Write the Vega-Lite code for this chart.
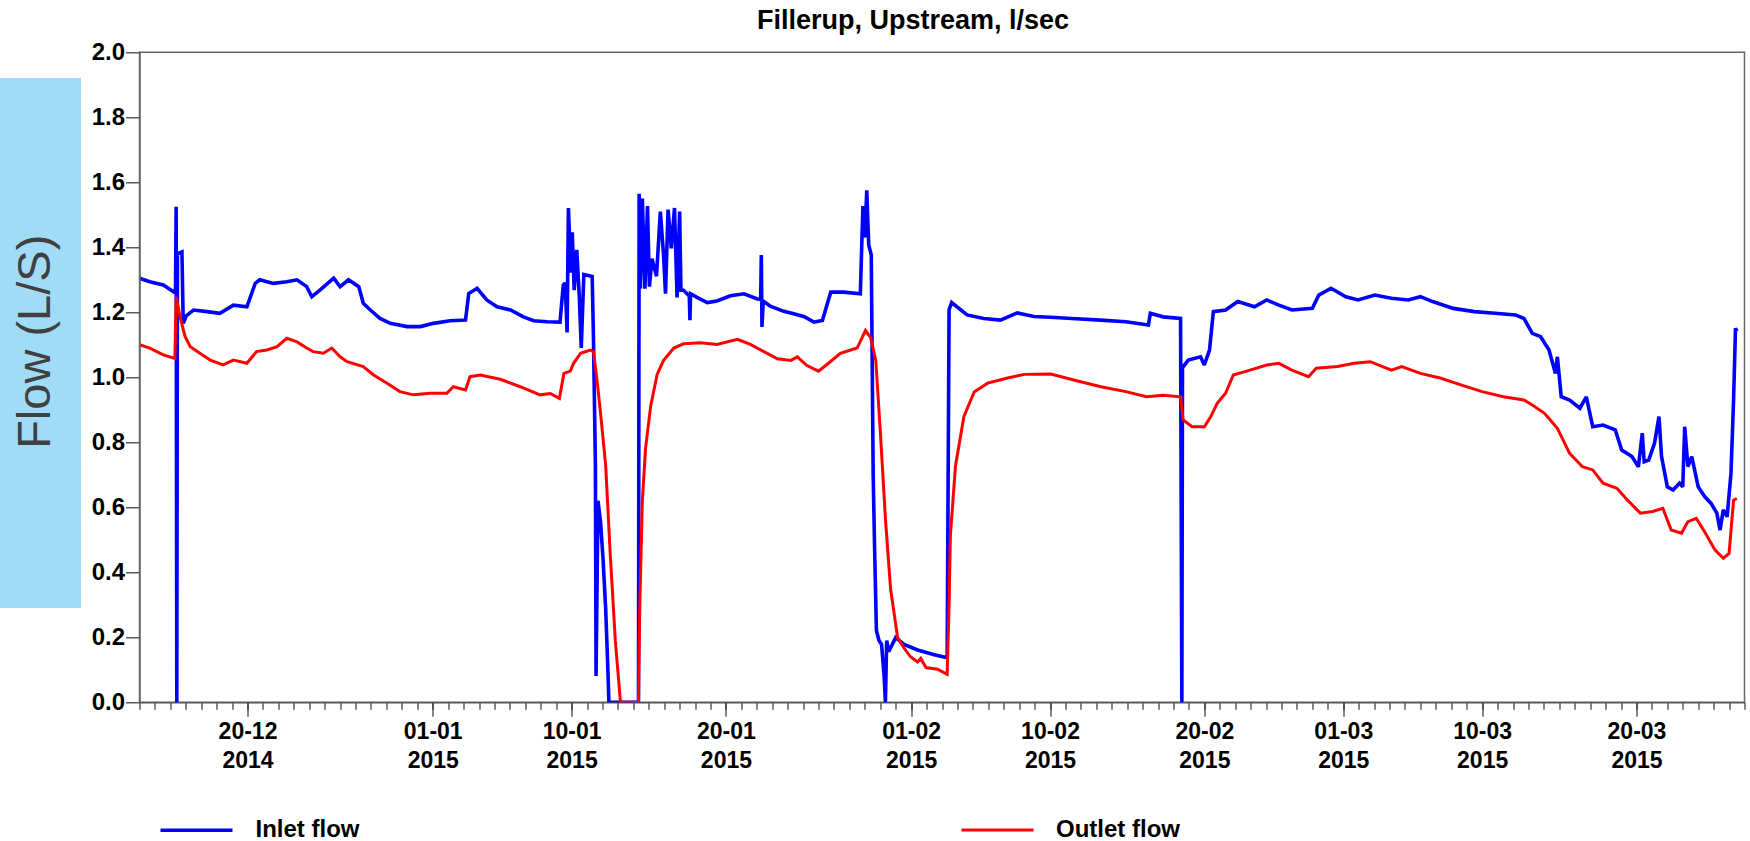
{
  "$schema": "https://vega.github.io/schema/vega-lite/v6.json",
  "width": 1605,
  "height": 650,
  "autosize": {"type": "none"},
  "padding": {"left": 139.5, "top": 52.3, "right": 5.5, "bottom": 138.7},
  "background": "white",
  "title": {"text": "Fillerup, Upstream, l/sec", "font": "Liberation Sans", "fontSize": 27, "fontWeight": "bold", "color": "#000000", "anchor": "middle", "dx": -29, "offset": -16, "baseline": "alphabetic"},
  "config": {"view": {"stroke": "#666666", "strokeWidth": 1.5}},
  "datasets": {
    "flow": [
      {"t": "2014-12-13T00:00", "s": "Inlet flow", "v": 1.305},
      {"t": "2014-12-13T16:00", "s": "Inlet flow", "v": 1.294},
      {"t": "2014-12-14T13:00", "s": "Inlet flow", "v": 1.284},
      {"t": "2014-12-15T05:00", "s": "Inlet flow", "v": 1.263},
      {"t": "2014-12-15T08:00", "s": "Inlet flow", "v": 1.27},
      {"t": "2014-12-15T09:00", "s": "Inlet flow", "v": 1.525},
      {"t": "2014-12-15T10:00", "s": "Inlet flow", "v": 0},
      {"t": "2014-12-15T11:00", "s": "Inlet flow", "v": 1.38},
      {"t": "2014-12-15T18:00", "s": "Inlet flow", "v": 1.386},
      {"t": "2014-12-15T20:00", "s": "Inlet flow", "v": 1.166},
      {"t": "2014-12-16T01:00", "s": "Inlet flow", "v": 1.19},
      {"t": "2014-12-16T12:00", "s": "Inlet flow", "v": 1.207},
      {"t": "2014-12-17T09:00", "s": "Inlet flow", "v": 1.202},
      {"t": "2014-12-18T05:00", "s": "Inlet flow", "v": 1.197},
      {"t": "2014-12-19T02:00", "s": "Inlet flow", "v": 1.222},
      {"t": "2014-12-19T23:00", "s": "Inlet flow", "v": 1.217},
      {"t": "2014-12-20T12:00", "s": "Inlet flow", "v": 1.289},
      {"t": "2014-12-20T19:00", "s": "Inlet flow", "v": 1.3},
      {"t": "2014-12-21T16:00", "s": "Inlet flow", "v": 1.289},
      {"t": "2014-12-22T13:00", "s": "Inlet flow", "v": 1.294},
      {"t": "2014-12-23T05:00", "s": "Inlet flow", "v": 1.3},
      {"t": "2014-12-23T20:00", "s": "Inlet flow", "v": 1.279},
      {"t": "2014-12-24T04:00", "s": "Inlet flow", "v": 1.248},
      {"t": "2014-12-24T17:00", "s": "Inlet flow", "v": 1.269},
      {"t": "2014-12-25T14:00", "s": "Inlet flow", "v": 1.305},
      {"t": "2014-12-26T00:00", "s": "Inlet flow", "v": 1.279},
      {"t": "2014-12-26T13:00", "s": "Inlet flow", "v": 1.3},
      {"t": "2014-12-27T05:00", "s": "Inlet flow", "v": 1.279},
      {"t": "2014-12-27T12:00", "s": "Inlet flow", "v": 1.228},
      {"t": "2014-12-27T23:00", "s": "Inlet flow", "v": 1.207},
      {"t": "2014-12-28T14:00", "s": "Inlet flow", "v": 1.181},
      {"t": "2014-12-29T06:00", "s": "Inlet flow", "v": 1.166},
      {"t": "2014-12-30T08:00", "s": "Inlet flow", "v": 1.156},
      {"t": "2014-12-31T05:00", "s": "Inlet flow", "v": 1.156},
      {"t": "2015-01-01T01:00", "s": "Inlet flow", "v": 1.166},
      {"t": "2015-01-02T03:00", "s": "Inlet flow", "v": 1.174},
      {"t": "2015-01-03T03:00", "s": "Inlet flow", "v": 1.176},
      {"t": "2015-01-03T08:00", "s": "Inlet flow", "v": 1.258},
      {"t": "2015-01-03T21:00", "s": "Inlet flow", "v": 1.274},
      {"t": "2015-01-04T12:00", "s": "Inlet flow", "v": 1.238},
      {"t": "2015-01-05T04:00", "s": "Inlet flow", "v": 1.217},
      {"t": "2015-01-06T01:00", "s": "Inlet flow", "v": 1.207},
      {"t": "2015-01-06T21:00", "s": "Inlet flow", "v": 1.186},
      {"t": "2015-01-07T13:00", "s": "Inlet flow", "v": 1.174},
      {"t": "2015-01-08T10:00", "s": "Inlet flow", "v": 1.171},
      {"t": "2015-01-09T06:00", "s": "Inlet flow", "v": 1.17},
      {"t": "2015-01-09T11:00", "s": "Inlet flow", "v": 1.284},
      {"t": "2015-01-09T14:00", "s": "Inlet flow", "v": 1.29},
      {"t": "2015-01-09T17:00", "s": "Inlet flow", "v": 1.138},
      {"t": "2015-01-09T19:00", "s": "Inlet flow", "v": 1.521},
      {"t": "2015-01-09T23:00", "s": "Inlet flow", "v": 1.322},
      {"t": "2015-01-10T01:00", "s": "Inlet flow", "v": 1.446},
      {"t": "2015-01-10T04:00", "s": "Inlet flow", "v": 1.268},
      {"t": "2015-01-10T08:00", "s": "Inlet flow", "v": 1.392},
      {"t": "2015-01-10T12:00", "s": "Inlet flow", "v": 1.246},
      {"t": "2015-01-10T15:00", "s": "Inlet flow", "v": 1.09},
      {"t": "2015-01-10T19:00", "s": "Inlet flow", "v": 1.316},
      {"t": "2015-01-11T08:00", "s": "Inlet flow", "v": 1.31},
      {"t": "2015-01-11T10:00", "s": "Inlet flow", "v": 1.117},
      {"t": "2015-01-11T13:00", "s": "Inlet flow", "v": 0.728},
      {"t": "2015-01-11T14:00", "s": "Inlet flow", "v": 0.081},
      {"t": "2015-01-11T17:00", "s": "Inlet flow", "v": 0.62},
      {"t": "2015-01-11T21:00", "s": "Inlet flow", "v": 0.555},
      {"t": "2015-01-12T01:00", "s": "Inlet flow", "v": 0.437},
      {"t": "2015-01-12T05:00", "s": "Inlet flow", "v": 0.286},
      {"t": "2015-01-12T08:00", "s": "Inlet flow", "v": 0.124},
      {"t": "2015-01-12T10:00", "s": "Inlet flow", "v": 0},
      {"t": "2015-01-14T08:00", "s": "Inlet flow", "v": 0},
      {"t": "2015-01-14T09:00", "s": "Inlet flow", "v": 1.565},
      {"t": "2015-01-14T11:00", "s": "Inlet flow", "v": 1.273},
      {"t": "2015-01-14T14:00", "s": "Inlet flow", "v": 1.55},
      {"t": "2015-01-14T18:00", "s": "Inlet flow", "v": 1.273},
      {"t": "2015-01-14T22:00", "s": "Inlet flow", "v": 1.527},
      {"t": "2015-01-15T01:00", "s": "Inlet flow", "v": 1.279},
      {"t": "2015-01-15T05:00", "s": "Inlet flow", "v": 1.365},
      {"t": "2015-01-15T12:00", "s": "Inlet flow", "v": 1.311},
      {"t": "2015-01-15T18:00", "s": "Inlet flow", "v": 1.51},
      {"t": "2015-01-15T23:00", "s": "Inlet flow", "v": 1.376},
      {"t": "2015-01-16T02:00", "s": "Inlet flow", "v": 1.257},
      {"t": "2015-01-16T06:00", "s": "Inlet flow", "v": 1.516},
      {"t": "2015-01-16T11:00", "s": "Inlet flow", "v": 1.397},
      {"t": "2015-01-16T16:00", "s": "Inlet flow", "v": 1.521},
      {"t": "2015-01-16T20:00", "s": "Inlet flow", "v": 1.246},
      {"t": "2015-01-17T00:00", "s": "Inlet flow", "v": 1.51},
      {"t": "2015-01-17T02:00", "s": "Inlet flow", "v": 1.268},
      {"t": "2015-01-17T06:00", "s": "Inlet flow", "v": 1.268},
      {"t": "2015-01-17T15:00", "s": "Inlet flow", "v": 1.25},
      {"t": "2015-01-17T16:00", "s": "Inlet flow", "v": 1.176},
      {"t": "2015-01-17T17:00", "s": "Inlet flow", "v": 1.257},
      {"t": "2015-01-18T03:00", "s": "Inlet flow", "v": 1.246},
      {"t": "2015-01-18T19:00", "s": "Inlet flow", "v": 1.23},
      {"t": "2015-01-19T10:00", "s": "Inlet flow", "v": 1.235},
      {"t": "2015-01-20T07:00", "s": "Inlet flow", "v": 1.251},
      {"t": "2015-01-21T04:00", "s": "Inlet flow", "v": 1.257},
      {"t": "2015-01-22T01:00", "s": "Inlet flow", "v": 1.241},
      {"t": "2015-01-22T06:00", "s": "Inlet flow", "v": 1.24},
      {"t": "2015-01-22T07:00", "s": "Inlet flow", "v": 1.376},
      {"t": "2015-01-22T08:00", "s": "Inlet flow", "v": 1.155},
      {"t": "2015-01-22T10:00", "s": "Inlet flow", "v": 1.235},
      {"t": "2015-01-22T21:00", "s": "Inlet flow", "v": 1.219},
      {"t": "2015-01-23T18:00", "s": "Inlet flow", "v": 1.203},
      {"t": "2015-01-24T05:00", "s": "Inlet flow", "v": 1.198},
      {"t": "2015-01-25T01:00", "s": "Inlet flow", "v": 1.187},
      {"t": "2015-01-25T17:00", "s": "Inlet flow", "v": 1.17},
      {"t": "2015-01-26T06:00", "s": "Inlet flow", "v": 1.175},
      {"t": "2015-01-26T19:00", "s": "Inlet flow", "v": 1.262},
      {"t": "2015-01-27T15:00", "s": "Inlet flow", "v": 1.262},
      {"t": "2015-01-28T17:00", "s": "Inlet flow", "v": 1.257},
      {"t": "2015-01-28T21:00", "s": "Inlet flow", "v": 1.527},
      {"t": "2015-01-29T00:00", "s": "Inlet flow", "v": 1.43},
      {"t": "2015-01-29T03:00", "s": "Inlet flow", "v": 1.575},
      {"t": "2015-01-29T06:00", "s": "Inlet flow", "v": 1.408},
      {"t": "2015-01-29T10:00", "s": "Inlet flow", "v": 1.376},
      {"t": "2015-01-29T13:00", "s": "Inlet flow", "v": 0.696},
      {"t": "2015-01-29T15:00", "s": "Inlet flow", "v": 0.491},
      {"t": "2015-01-29T18:00", "s": "Inlet flow", "v": 0.221},
      {"t": "2015-01-29T22:00", "s": "Inlet flow", "v": 0.19},
      {"t": "2015-01-30T02:00", "s": "Inlet flow", "v": 0.178},
      {"t": "2015-01-30T06:00", "s": "Inlet flow", "v": 0.081},
      {"t": "2015-01-30T08:00", "s": "Inlet flow", "v": 0},
      {"t": "2015-01-30T10:00", "s": "Inlet flow", "v": 0.19},
      {"t": "2015-01-30T13:00", "s": "Inlet flow", "v": 0.156},
      {"t": "2015-01-31T00:00", "s": "Inlet flow", "v": 0.199},
      {"t": "2015-01-31T13:00", "s": "Inlet flow", "v": 0.178},
      {"t": "2015-02-01T10:00", "s": "Inlet flow", "v": 0.161},
      {"t": "2015-02-02T12:00", "s": "Inlet flow", "v": 0.146},
      {"t": "2015-02-03T08:00", "s": "Inlet flow", "v": 0.137},
      {"t": "2015-02-03T11:00", "s": "Inlet flow", "v": 1.208},
      {"t": "2015-02-03T15:00", "s": "Inlet flow", "v": 1.23},
      {"t": "2015-02-04T15:00", "s": "Inlet flow", "v": 1.192},
      {"t": "2015-02-05T17:00", "s": "Inlet flow", "v": 1.181},
      {"t": "2015-02-06T19:00", "s": "Inlet flow", "v": 1.176},
      {"t": "2015-02-07T21:00", "s": "Inlet flow", "v": 1.198},
      {"t": "2015-02-08T23:00", "s": "Inlet flow", "v": 1.187},
      {"t": "2015-02-10T01:00", "s": "Inlet flow", "v": 1.185},
      {"t": "2015-02-11T16:00", "s": "Inlet flow", "v": 1.18},
      {"t": "2015-02-13T07:00", "s": "Inlet flow", "v": 1.176},
      {"t": "2015-02-14T22:00", "s": "Inlet flow", "v": 1.171},
      {"t": "2015-02-16T09:00", "s": "Inlet flow", "v": 1.161},
      {"t": "2015-02-16T12:00", "s": "Inlet flow", "v": 1.197},
      {"t": "2015-02-17T08:00", "s": "Inlet flow", "v": 1.186},
      {"t": "2015-02-18T11:00", "s": "Inlet flow", "v": 1.181},
      {"t": "2015-02-18T13:00", "s": "Inlet flow", "v": 0},
      {"t": "2015-02-18T14:00", "s": "Inlet flow", "v": 1.03},
      {"t": "2015-02-18T23:00", "s": "Inlet flow", "v": 1.053},
      {"t": "2015-02-19T18:00", "s": "Inlet flow", "v": 1.063},
      {"t": "2015-02-20T00:00", "s": "Inlet flow", "v": 1.038},
      {"t": "2015-02-20T08:00", "s": "Inlet flow", "v": 1.084},
      {"t": "2015-02-20T14:00", "s": "Inlet flow", "v": 1.202},
      {"t": "2015-02-21T09:00", "s": "Inlet flow", "v": 1.207},
      {"t": "2015-02-22T04:00", "s": "Inlet flow", "v": 1.233},
      {"t": "2015-02-23T06:00", "s": "Inlet flow", "v": 1.217},
      {"t": "2015-02-24T01:00", "s": "Inlet flow", "v": 1.238},
      {"t": "2015-02-24T20:00", "s": "Inlet flow", "v": 1.222},
      {"t": "2015-02-25T16:00", "s": "Inlet flow", "v": 1.207},
      {"t": "2015-02-27T00:00", "s": "Inlet flow", "v": 1.212},
      {"t": "2015-02-27T10:00", "s": "Inlet flow", "v": 1.253},
      {"t": "2015-02-28T05:00", "s": "Inlet flow", "v": 1.274},
      {"t": "2015-03-01T04:00", "s": "Inlet flow", "v": 1.248},
      {"t": "2015-03-01T23:00", "s": "Inlet flow", "v": 1.238},
      {"t": "2015-03-03T01:00", "s": "Inlet flow", "v": 1.253},
      {"t": "2015-03-04T03:00", "s": "Inlet flow", "v": 1.243},
      {"t": "2015-03-05T05:00", "s": "Inlet flow", "v": 1.238},
      {"t": "2015-03-06T00:00", "s": "Inlet flow", "v": 1.248},
      {"t": "2015-03-06T19:00", "s": "Inlet flow", "v": 1.233},
      {"t": "2015-03-08T03:00", "s": "Inlet flow", "v": 1.212},
      {"t": "2015-03-09T12:00", "s": "Inlet flow", "v": 1.202},
      {"t": "2015-03-10T20:00", "s": "Inlet flow", "v": 1.197},
      {"t": "2015-03-12T04:00", "s": "Inlet flow", "v": 1.192},
      {"t": "2015-03-12T17:00", "s": "Inlet flow", "v": 1.181},
      {"t": "2015-03-13T06:00", "s": "Inlet flow", "v": 1.135},
      {"t": "2015-03-13T19:00", "s": "Inlet flow", "v": 1.125},
      {"t": "2015-03-14T08:00", "s": "Inlet flow", "v": 1.084},
      {"t": "2015-03-14T18:00", "s": "Inlet flow", "v": 1.012},
      {"t": "2015-03-14T21:00", "s": "Inlet flow", "v": 1.063},
      {"t": "2015-03-15T03:00", "s": "Inlet flow", "v": 0.94},
      {"t": "2015-03-15T16:00", "s": "Inlet flow", "v": 0.93},
      {"t": "2015-03-16T08:00", "s": "Inlet flow", "v": 0.905},
      {"t": "2015-03-16T18:00", "s": "Inlet flow", "v": 0.94},
      {"t": "2015-03-17T04:00", "s": "Inlet flow", "v": 0.848},
      {"t": "2015-03-17T20:00", "s": "Inlet flow", "v": 0.853},
      {"t": "2015-03-18T15:00", "s": "Inlet flow", "v": 0.838},
      {"t": "2015-03-19T01:00", "s": "Inlet flow", "v": 0.776},
      {"t": "2015-03-19T17:00", "s": "Inlet flow", "v": 0.756},
      {"t": "2015-03-20T03:00", "s": "Inlet flow", "v": 0.725},
      {"t": "2015-03-20T09:00", "s": "Inlet flow", "v": 0.828},
      {"t": "2015-03-20T12:00", "s": "Inlet flow", "v": 0.74},
      {"t": "2015-03-20T19:00", "s": "Inlet flow", "v": 0.745},
      {"t": "2015-03-21T04:00", "s": "Inlet flow", "v": 0.797},
      {"t": "2015-03-21T11:00", "s": "Inlet flow", "v": 0.879},
      {"t": "2015-03-21T15:00", "s": "Inlet flow", "v": 0.756},
      {"t": "2015-03-22T00:00", "s": "Inlet flow", "v": 0.663},
      {"t": "2015-03-22T09:00", "s": "Inlet flow", "v": 0.653},
      {"t": "2015-03-22T19:00", "s": "Inlet flow", "v": 0.674},
      {"t": "2015-03-23T00:00", "s": "Inlet flow", "v": 0.663},
      {"t": "2015-03-23T03:00", "s": "Inlet flow", "v": 0.848},
      {"t": "2015-03-23T08:00", "s": "Inlet flow", "v": 0.725},
      {"t": "2015-03-23T14:00", "s": "Inlet flow", "v": 0.756},
      {"t": "2015-03-24T00:00", "s": "Inlet flow", "v": 0.663},
      {"t": "2015-03-24T10:00", "s": "Inlet flow", "v": 0.633},
      {"t": "2015-03-24T20:00", "s": "Inlet flow", "v": 0.612},
      {"t": "2015-03-25T05:00", "s": "Inlet flow", "v": 0.582},
      {"t": "2015-03-25T10:00", "s": "Inlet flow", "v": 0.53},
      {"t": "2015-03-25T15:00", "s": "Inlet flow", "v": 0.592},
      {"t": "2015-03-25T21:00", "s": "Inlet flow", "v": 0.571},
      {"t": "2015-03-26T03:00", "s": "Inlet flow", "v": 0.705},
      {"t": "2015-03-26T07:00", "s": "Inlet flow", "v": 0.93},
      {"t": "2015-03-26T10:00", "s": "Inlet flow", "v": 1.151},
      {"t": "2015-03-26T12:00", "s": "Inlet flow", "v": 1.141},
      {"t": "2014-12-13T00:00", "s": "Outlet flow", "v": 1.1},
      {"t": "2014-12-13T16:00", "s": "Outlet flow", "v": 1.09},
      {"t": "2014-12-14T13:00", "s": "Outlet flow", "v": 1.069},
      {"t": "2014-12-15T07:00", "s": "Outlet flow", "v": 1.058},
      {"t": "2014-12-15T09:00", "s": "Outlet flow", "v": 1.248},
      {"t": "2014-12-15T15:00", "s": "Outlet flow", "v": 1.186},
      {"t": "2014-12-15T23:00", "s": "Outlet flow", "v": 1.125},
      {"t": "2014-12-16T07:00", "s": "Outlet flow", "v": 1.094},
      {"t": "2014-12-16T22:00", "s": "Outlet flow", "v": 1.074},
      {"t": "2014-12-17T14:00", "s": "Outlet flow", "v": 1.053},
      {"t": "2014-12-18T10:00", "s": "Outlet flow", "v": 1.038},
      {"t": "2014-12-19T02:00", "s": "Outlet flow", "v": 1.053},
      {"t": "2014-12-19T23:00", "s": "Outlet flow", "v": 1.043},
      {"t": "2014-12-20T14:00", "s": "Outlet flow", "v": 1.079},
      {"t": "2014-12-21T06:00", "s": "Outlet flow", "v": 1.084},
      {"t": "2014-12-21T22:00", "s": "Outlet flow", "v": 1.094},
      {"t": "2014-12-22T13:00", "s": "Outlet flow", "v": 1.12},
      {"t": "2014-12-23T05:00", "s": "Outlet flow", "v": 1.109},
      {"t": "2014-12-23T20:00", "s": "Outlet flow", "v": 1.09},
      {"t": "2014-12-24T06:00", "s": "Outlet flow", "v": 1.079},
      {"t": "2014-12-24T22:00", "s": "Outlet flow", "v": 1.074},
      {"t": "2014-12-25T11:00", "s": "Outlet flow", "v": 1.09},
      {"t": "2014-12-26T00:00", "s": "Outlet flow", "v": 1.063},
      {"t": "2014-12-26T11:00", "s": "Outlet flow", "v": 1.048},
      {"t": "2014-12-27T12:00", "s": "Outlet flow", "v": 1.033},
      {"t": "2014-12-28T04:00", "s": "Outlet flow", "v": 1.007},
      {"t": "2014-12-29T01:00", "s": "Outlet flow", "v": 0.982},
      {"t": "2014-12-29T21:00", "s": "Outlet flow", "v": 0.956},
      {"t": "2014-12-30T18:00", "s": "Outlet flow", "v": 0.946},
      {"t": "2014-12-31T20:00", "s": "Outlet flow", "v": 0.951},
      {"t": "2015-01-01T22:00", "s": "Outlet flow", "v": 0.951},
      {"t": "2015-01-02T08:00", "s": "Outlet flow", "v": 0.971},
      {"t": "2015-01-03T03:00", "s": "Outlet flow", "v": 0.961},
      {"t": "2015-01-03T10:00", "s": "Outlet flow", "v": 1.002},
      {"t": "2015-01-04T02:00", "s": "Outlet flow", "v": 1.007},
      {"t": "2015-01-05T09:00", "s": "Outlet flow", "v": 0.994},
      {"t": "2015-01-06T16:00", "s": "Outlet flow", "v": 0.971},
      {"t": "2015-01-07T23:00", "s": "Outlet flow", "v": 0.946},
      {"t": "2015-01-08T15:00", "s": "Outlet flow", "v": 0.95},
      {"t": "2015-01-09T05:00", "s": "Outlet flow", "v": 0.935},
      {"t": "2015-01-09T12:00", "s": "Outlet flow", "v": 1.012},
      {"t": "2015-01-09T22:00", "s": "Outlet flow", "v": 1.019},
      {"t": "2015-01-10T03:00", "s": "Outlet flow", "v": 1.043},
      {"t": "2015-01-10T14:00", "s": "Outlet flow", "v": 1.074},
      {"t": "2015-01-11T05:00", "s": "Outlet flow", "v": 1.084},
      {"t": "2015-01-11T10:00", "s": "Outlet flow", "v": 1.08},
      {"t": "2015-01-11T16:00", "s": "Outlet flow", "v": 0.982},
      {"t": "2015-01-11T21:00", "s": "Outlet flow", "v": 0.89},
      {"t": "2015-01-12T05:00", "s": "Outlet flow", "v": 0.728},
      {"t": "2015-01-12T12:00", "s": "Outlet flow", "v": 0.458},
      {"t": "2015-01-12T20:00", "s": "Outlet flow", "v": 0.189},
      {"t": "2015-01-13T04:00", "s": "Outlet flow", "v": 0},
      {"t": "2015-01-14T08:00", "s": "Outlet flow", "v": 0},
      {"t": "2015-01-14T10:00", "s": "Outlet flow", "v": 0.296},
      {"t": "2015-01-14T14:00", "s": "Outlet flow", "v": 0.62},
      {"t": "2015-01-14T19:00", "s": "Outlet flow", "v": 0.782},
      {"t": "2015-01-15T03:00", "s": "Outlet flow", "v": 0.912},
      {"t": "2015-01-15T13:00", "s": "Outlet flow", "v": 1.009},
      {"t": "2015-01-15T23:00", "s": "Outlet flow", "v": 1.052},
      {"t": "2015-01-16T15:00", "s": "Outlet flow", "v": 1.09},
      {"t": "2015-01-17T06:00", "s": "Outlet flow", "v": 1.103},
      {"t": "2015-01-18T08:00", "s": "Outlet flow", "v": 1.106},
      {"t": "2015-01-19T10:00", "s": "Outlet flow", "v": 1.101},
      {"t": "2015-01-20T18:00", "s": "Outlet flow", "v": 1.117},
      {"t": "2015-01-21T14:00", "s": "Outlet flow", "v": 1.101},
      {"t": "2015-01-22T11:00", "s": "Outlet flow", "v": 1.079},
      {"t": "2015-01-23T08:00", "s": "Outlet flow", "v": 1.057},
      {"t": "2015-01-24T05:00", "s": "Outlet flow", "v": 1.052},
      {"t": "2015-01-24T15:00", "s": "Outlet flow", "v": 1.063},
      {"t": "2015-01-25T06:00", "s": "Outlet flow", "v": 1.036},
      {"t": "2015-01-26T00:00", "s": "Outlet flow", "v": 1.019},
      {"t": "2015-01-26T14:00", "s": "Outlet flow", "v": 1.041},
      {"t": "2015-01-27T10:00", "s": "Outlet flow", "v": 1.074},
      {"t": "2015-01-28T12:00", "s": "Outlet flow", "v": 1.09},
      {"t": "2015-01-29T01:00", "s": "Outlet flow", "v": 1.144},
      {"t": "2015-01-29T09:00", "s": "Outlet flow", "v": 1.122},
      {"t": "2015-01-29T17:00", "s": "Outlet flow", "v": 1.052},
      {"t": "2015-01-30T00:00", "s": "Outlet flow", "v": 0.836},
      {"t": "2015-01-30T08:00", "s": "Outlet flow", "v": 0.566},
      {"t": "2015-01-30T16:00", "s": "Outlet flow", "v": 0.35},
      {"t": "2015-01-31T03:00", "s": "Outlet flow", "v": 0.199},
      {"t": "2015-01-31T13:00", "s": "Outlet flow", "v": 0.167},
      {"t": "2015-01-31T23:00", "s": "Outlet flow", "v": 0.14},
      {"t": "2015-02-01T10:00", "s": "Outlet flow", "v": 0.124},
      {"t": "2015-02-01T15:00", "s": "Outlet flow", "v": 0.135},
      {"t": "2015-02-01T23:00", "s": "Outlet flow", "v": 0.107},
      {"t": "2015-02-02T17:00", "s": "Outlet flow", "v": 0.102},
      {"t": "2015-02-03T08:00", "s": "Outlet flow", "v": 0.086},
      {"t": "2015-02-03T11:00", "s": "Outlet flow", "v": 0.296},
      {"t": "2015-02-03T13:00", "s": "Outlet flow", "v": 0.512},
      {"t": "2015-02-03T21:00", "s": "Outlet flow", "v": 0.728},
      {"t": "2015-02-04T10:00", "s": "Outlet flow", "v": 0.879},
      {"t": "2015-02-05T02:00", "s": "Outlet flow", "v": 0.955},
      {"t": "2015-02-05T23:00", "s": "Outlet flow", "v": 0.982},
      {"t": "2015-02-07T06:00", "s": "Outlet flow", "v": 0.998},
      {"t": "2015-02-08T08:00", "s": "Outlet flow", "v": 1.009},
      {"t": "2015-02-10T01:00", "s": "Outlet flow", "v": 1.01},
      {"t": "2015-02-11T16:00", "s": "Outlet flow", "v": 0.99},
      {"t": "2015-02-13T07:00", "s": "Outlet flow", "v": 0.971},
      {"t": "2015-02-14T22:00", "s": "Outlet flow", "v": 0.956},
      {"t": "2015-02-16T06:00", "s": "Outlet flow", "v": 0.94},
      {"t": "2015-02-17T08:00", "s": "Outlet flow", "v": 0.945},
      {"t": "2015-02-18T11:00", "s": "Outlet flow", "v": 0.94},
      {"t": "2015-02-18T15:00", "s": "Outlet flow", "v": 0.869},
      {"t": "2015-02-19T05:00", "s": "Outlet flow", "v": 0.848},
      {"t": "2015-02-20T00:00", "s": "Outlet flow", "v": 0.848},
      {"t": "2015-02-20T10:00", "s": "Outlet flow", "v": 0.879},
      {"t": "2015-02-20T20:00", "s": "Outlet flow", "v": 0.92},
      {"t": "2015-02-21T09:00", "s": "Outlet flow", "v": 0.951},
      {"t": "2015-02-21T21:00", "s": "Outlet flow", "v": 1.007},
      {"t": "2015-02-22T23:00", "s": "Outlet flow", "v": 1.022},
      {"t": "2015-02-24T01:00", "s": "Outlet flow", "v": 1.038},
      {"t": "2015-02-24T20:00", "s": "Outlet flow", "v": 1.043},
      {"t": "2015-02-25T16:00", "s": "Outlet flow", "v": 1.022},
      {"t": "2015-02-26T18:00", "s": "Outlet flow", "v": 1.002},
      {"t": "2015-02-27T06:00", "s": "Outlet flow", "v": 1.028},
      {"t": "2015-02-28T15:00", "s": "Outlet flow", "v": 1.033},
      {"t": "2015-03-01T17:00", "s": "Outlet flow", "v": 1.043},
      {"t": "2015-03-02T18:00", "s": "Outlet flow", "v": 1.048},
      {"t": "2015-03-04T03:00", "s": "Outlet flow", "v": 1.022},
      {"t": "2015-03-04T19:00", "s": "Outlet flow", "v": 1.033},
      {"t": "2015-03-06T00:00", "s": "Outlet flow", "v": 1.012},
      {"t": "2015-03-07T08:00", "s": "Outlet flow", "v": 0.997},
      {"t": "2015-03-08T16:00", "s": "Outlet flow", "v": 0.976},
      {"t": "2015-03-10T00:00", "s": "Outlet flow", "v": 0.956},
      {"t": "2015-03-11T09:00", "s": "Outlet flow", "v": 0.94},
      {"t": "2015-03-12T17:00", "s": "Outlet flow", "v": 0.93},
      {"t": "2015-03-13T06:00", "s": "Outlet flow", "v": 0.915},
      {"t": "2015-03-14T01:00", "s": "Outlet flow", "v": 0.889},
      {"t": "2015-03-14T21:00", "s": "Outlet flow", "v": 0.843},
      {"t": "2015-03-15T16:00", "s": "Outlet flow", "v": 0.766},
      {"t": "2015-03-16T12:00", "s": "Outlet flow", "v": 0.725},
      {"t": "2015-03-17T04:00", "s": "Outlet flow", "v": 0.715},
      {"t": "2015-03-17T20:00", "s": "Outlet flow", "v": 0.674},
      {"t": "2015-03-18T18:00", "s": "Outlet flow", "v": 0.658},
      {"t": "2015-03-19T10:00", "s": "Outlet flow", "v": 0.622},
      {"t": "2015-03-20T06:00", "s": "Outlet flow", "v": 0.582},
      {"t": "2015-03-21T01:00", "s": "Outlet flow", "v": 0.587},
      {"t": "2015-03-21T17:00", "s": "Outlet flow", "v": 0.597},
      {"t": "2015-03-22T06:00", "s": "Outlet flow", "v": 0.53},
      {"t": "2015-03-22T22:00", "s": "Outlet flow", "v": 0.52},
      {"t": "2015-03-23T08:00", "s": "Outlet flow", "v": 0.556},
      {"t": "2015-03-23T21:00", "s": "Outlet flow", "v": 0.566},
      {"t": "2015-03-24T10:00", "s": "Outlet flow", "v": 0.525},
      {"t": "2015-03-25T02:00", "s": "Outlet flow", "v": 0.469},
      {"t": "2015-03-25T15:00", "s": "Outlet flow", "v": 0.443},
      {"t": "2015-03-26T00:00", "s": "Outlet flow", "v": 0.458},
      {"t": "2015-03-26T07:00", "s": "Outlet flow", "v": 0.622},
      {"t": "2015-03-26T12:00", "s": "Outlet flow", "v": 0.627}
    ]
  },
  "layer": [
    {
      "data": {"values": [{}]},
      "mark": {"type": "rect", "color": "#a0dcf7", "clip": false},
      "encoding": {
        "x": {
          "datum": {"year": 2014, "month": 12, "date": 3, "hours": 23},
          "type": "temporal",
          "scale": {"domain": [{"year": 2014, "month": 12, "date": 13}, {"year": 2015, "month": 3, "date": 27}]},
          "axis": {"orient": "bottom", "title": null, "tickCount": {"interval": "day", "step": 1}, "labels": false, "tickSize": 7, "tickColor": "#333333", "tickWidth": 1.2, "domain": true, "domainColor": "#555555", "domainWidth": 1.5, "grid": false}
        },
        "x2": {"datum": {"year": 2014, "month": 12, "date": 9, "hours": 5}},
        "y": {
          "datum": 1.921,
          "type": "quantitative",
          "scale": {"domain": [0, 2], "nice": false},
          "axis": {
            "title": "Flow (L/S)",
            "values": [0, 0.2, 0.4, 0.6, 0.8, 1, 1.2, 1.4, 1.6, 1.8, 2],
            "format": ".1f",
            "tickSize": 14,
            "tickColor": "#333333",
            "tickWidth": 1.2,
            "domainColor": "#666666",
            "domainWidth": 1.5,
            "grid": false,
            "labelFont": "Liberation Sans",
            "labelFontSize": 24,
            "labelFontWeight": "bold",
            "labelColor": "#000000",
            "labelPadding": 1,
            "labelFlush": false,
            "labelOverlap": false,
            "zindex": 1,
            "titleFont": "Liberation Sans",
            "titleFontSize": 47,
            "titleFontWeight": "normal",
            "titleColor": "#404040",
            "titleAngle": 270,
            "titleAlign": "center",
            "titleBaseline": "alphabetic",
            "titleX": -90,
            "titleY": 289
          }
        },
        "y2": {"datum": 0.29}
      }
    },
    {
      "data": {"name": "flow"},
      "mark": {"type": "line", "clip": true, "strokeJoin": "miter", "strokeMiterLimit": 2},
      "encoding": {
        "x": {
          "field": "t",
          "type": "temporal",
          "scale": {"domain": [{"year": 2014, "month": 12, "date": 13}, {"year": 2015, "month": 3, "date": 27}]},
          "axis": {
            "orient": "bottom",
            "title": null,
            "values": [
              {"year": 2014, "month": 12, "date": 20},
              {"year": 2015, "month": 1, "date": 1},
              {"year": 2015, "month": 1, "date": 10},
              {"year": 2015, "month": 1, "date": 20},
              {"year": 2015, "month": 2, "date": 1},
              {"year": 2015, "month": 2, "date": 10},
              {"year": 2015, "month": 2, "date": 20},
              {"year": 2015, "month": 3, "date": 1},
              {"year": 2015, "month": 3, "date": 10},
              {"year": 2015, "month": 3, "date": 20}
            ],
            "labelExpr": "[timeFormat(datum.value, '%d-%m'), timeFormat(datum.value, '%Y')]",
            "tickSize": 14,
            "tickColor": "#333333",
            "tickWidth": 1.2,
            "domain": false,
            "grid": false,
            "labelFont": "Liberation Sans",
            "labelFontSize": 23,
            "labelFontWeight": "bold",
            "labelColor": "#000000",
            "labelLineHeight": 29,
            "labelPadding": 4,
            "labelOverlap": false,
            "labelFlush": false
          }
        },
        "y": {
          "field": "v",
          "type": "quantitative",
          "scale": {"domain": [0, 2], "nice": false},
          "axis": {
            "title": "Flow (L/S)",
            "values": [0, 0.2, 0.4, 0.6, 0.8, 1, 1.2, 1.4, 1.6, 1.8, 2],
            "format": ".1f",
            "tickSize": 14,
            "tickColor": "#333333",
            "tickWidth": 1.2,
            "domainColor": "#666666",
            "domainWidth": 1.5,
            "grid": false,
            "labelFont": "Liberation Sans",
            "labelFontSize": 24,
            "labelFontWeight": "bold",
            "labelColor": "#000000",
            "labelPadding": 1,
            "labelFlush": false,
            "labelOverlap": false,
            "zindex": 1,
            "titleFont": "Liberation Sans",
            "titleFontSize": 47,
            "titleFontWeight": "normal",
            "titleColor": "#404040",
            "titleAngle": 270,
            "titleAlign": "center",
            "titleBaseline": "alphabetic",
            "titleX": -90,
            "titleY": 289
          }
        },
        "color": {
          "field": "s",
          "type": "nominal",
          "scale": {"domain": ["Inlet flow", "Outlet flow"], "range": ["#0000ff", "#ff0000"]},
          "legend": {
            "orient": "none",
            "legendX": 19,
            "legendY": 740,
            "direction": "horizontal",
            "title": null,
            "padding": 0,
            "symbolType": "stroke",
            "symbolSize": 5184,
            "symbolStrokeWidth": 2,
            "labelFont": "Liberation Sans",
            "labelFontSize": 24,
            "labelFontWeight": "bold",
            "labelColor": "#000000",
            "labelOffset": 21,
            "columnPadding": 595.5,
            "labelLimit": 400
          }
        },
        "strokeWidth": {"field": "s", "type": "nominal", "scale": {"domain": ["Inlet flow", "Outlet flow"], "range": [3.6, 3]}, "legend": null}
      }
    }
  ],
  "resolve": {"axis": {"x": "independent"}}
}
